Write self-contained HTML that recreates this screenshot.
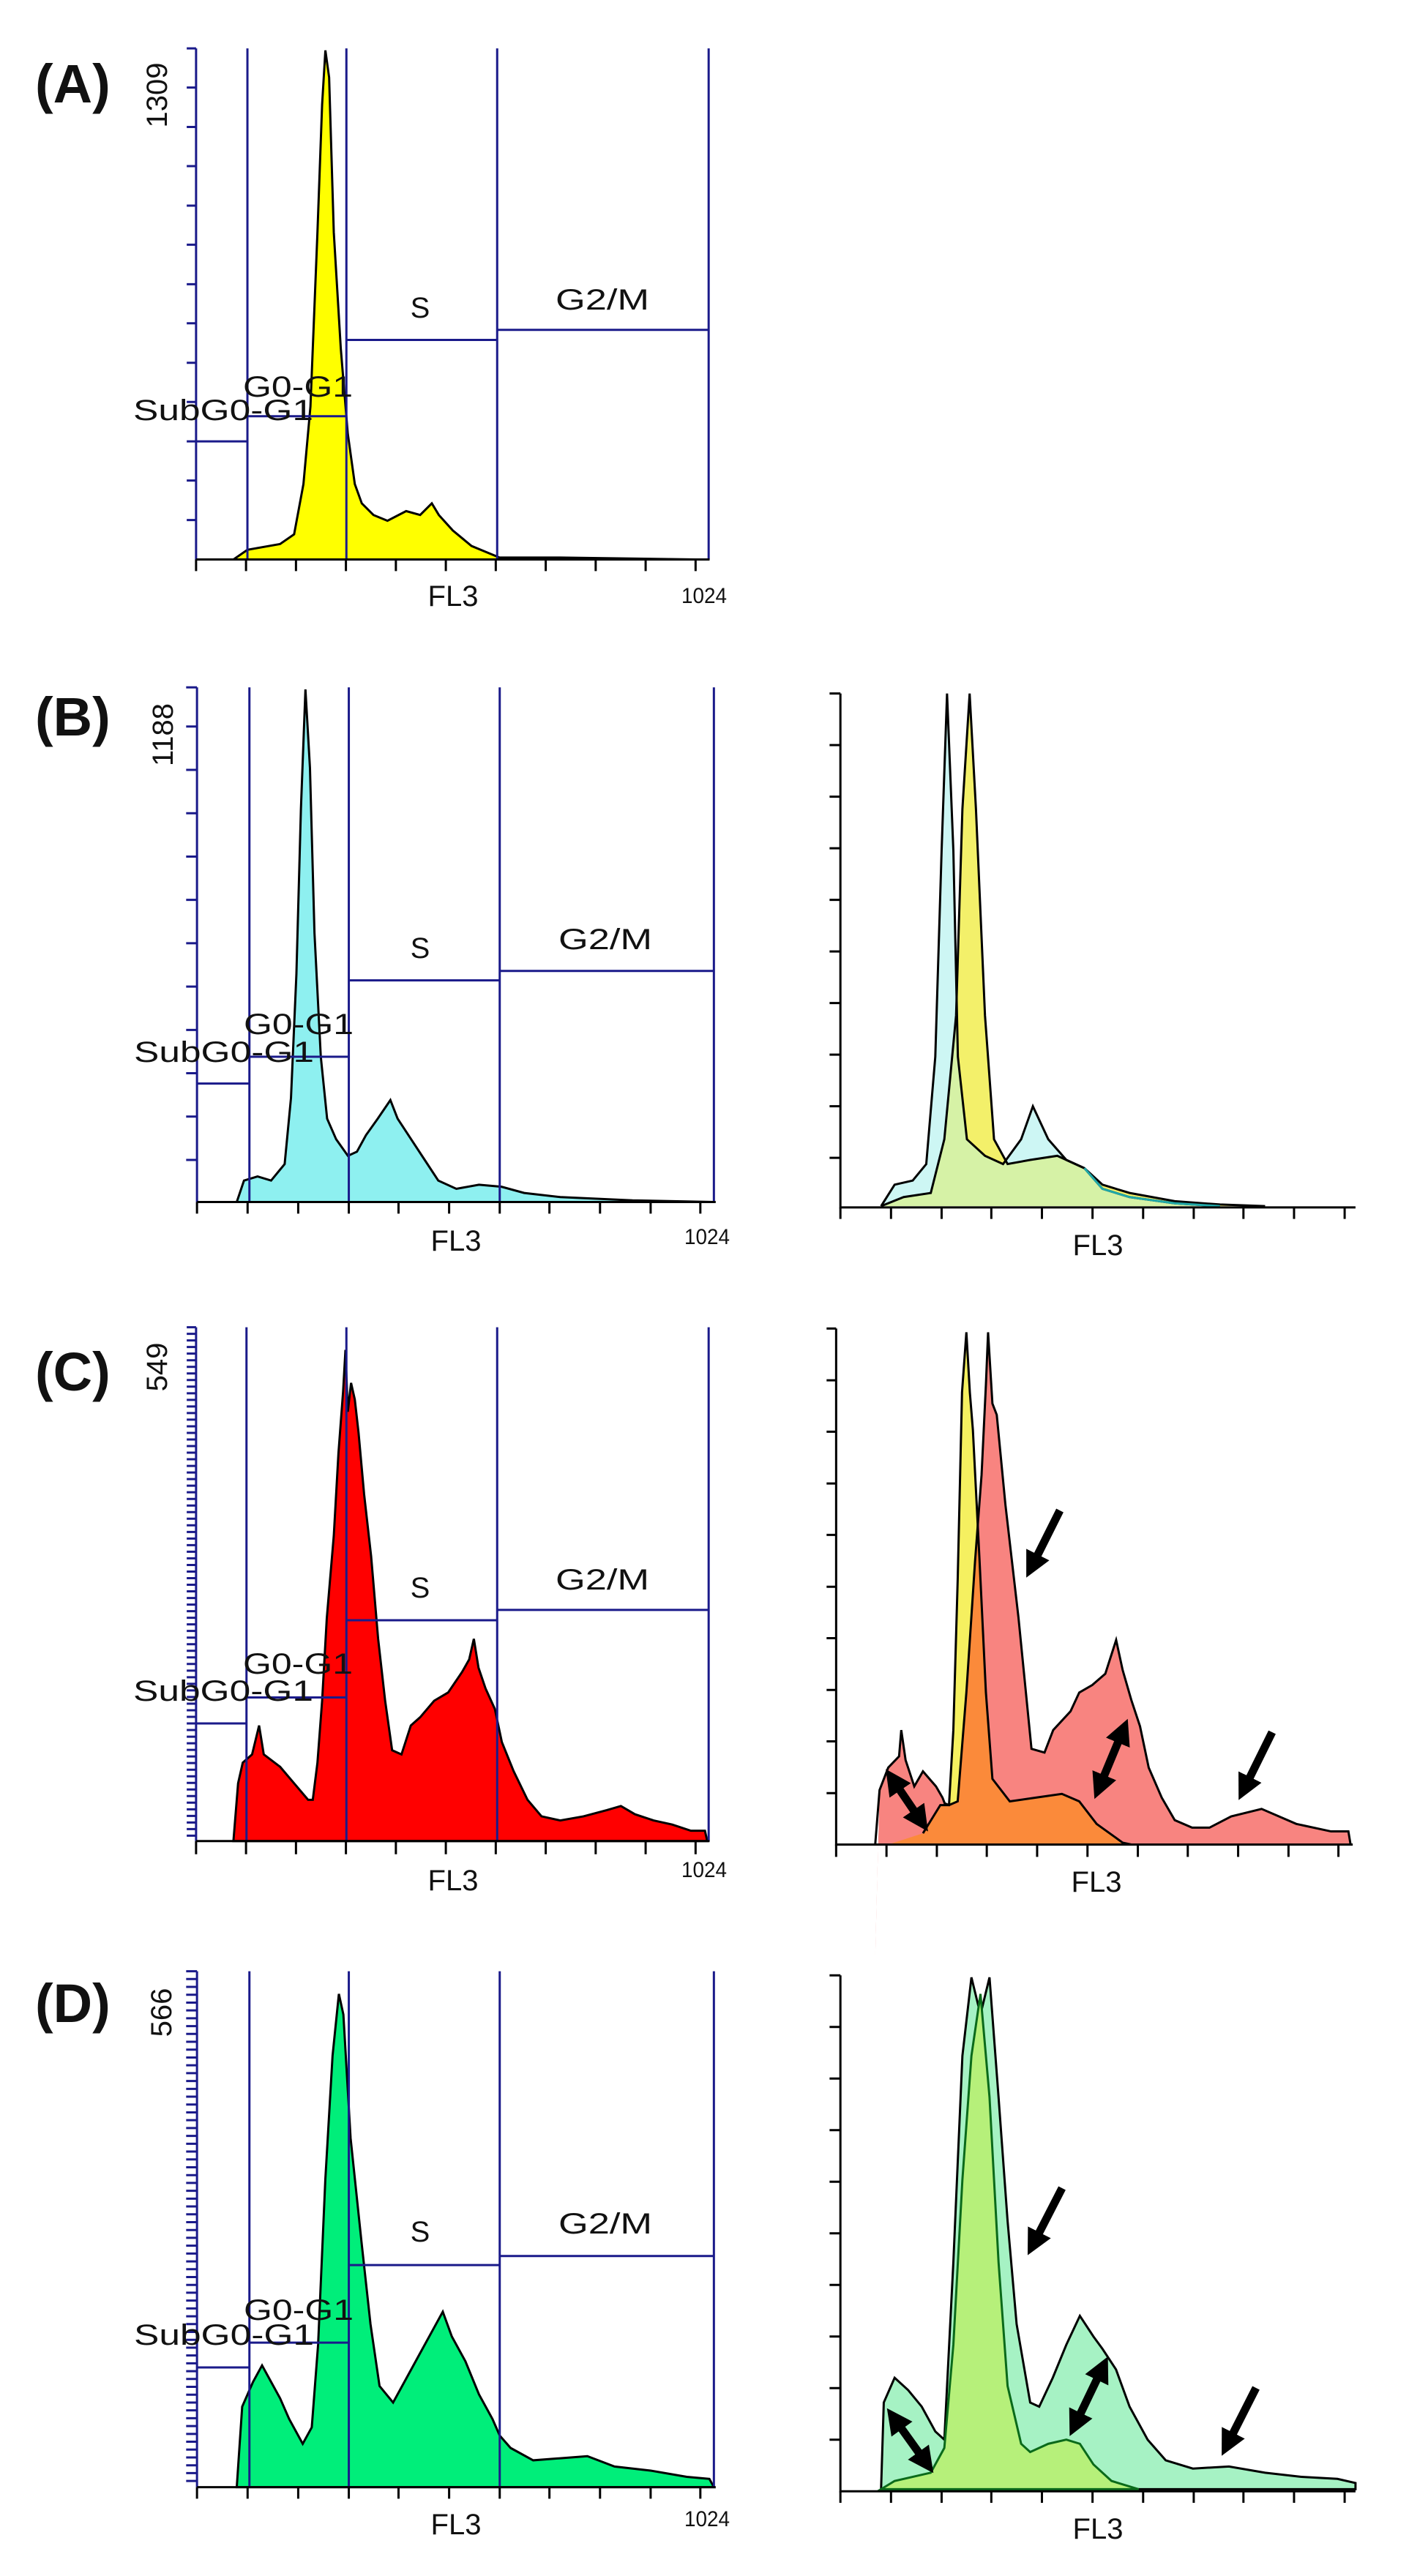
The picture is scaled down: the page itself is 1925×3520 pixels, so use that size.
<!DOCTYPE html>
<html><head><meta charset="utf-8"><style>
html,body{margin:0;padding:0;background:#fff;}
svg{display:block}
text{font-family:"Liberation Sans",sans-serif;fill:#111}
.lbl{font-size:40px}
.big{font-size:74px;font-weight:bold}
.small{font-size:30px}
</style></head><body>
<svg width="1925" height="3520" viewBox="0 0 1925 3520" xmlns="http://www.w3.org/2000/svg">
<defs>
<marker id="ah" viewBox="0 0 10 10" refX="5" refY="5" markerWidth="3.2" markerHeight="3.2" orient="auto-start-reverse" markerUnits="strokeWidth">
<path d="M0,0 L10,5 L0,10 z" fill="#000"/></marker>
</defs>

<!-- ================= PANEL A ================= -->
<g transform="translate(0,0) scale(0.6378,0.5291)">
<path d="M500,1445 L530,1420 L600,1405 L630,1380 L650,1250 L665,1050 L680,600 L690,270 L697,130 L705,200 L715,600 L730,900 L745,1120 L760,1250 L775,1300 L800,1330 L830,1345 L870,1320 L900,1330 L925,1300 L940,1330 L970,1370 L1010,1410 L1050,1430 L1070,1440 L1200,1440 L1490,1445 Z" fill="#ffff00" stroke="#000" stroke-width="3" vector-effect="non-scaling-stroke"/>
<g stroke="#1a1a8a" stroke-width="3" vector-effect="non-scaling-stroke" fill="none">
<path d="M420,125 V1445 M530,125 V1445 M742,125 V1445 M1065,125 V1445 M1518,125 V1445" vector-effect="non-scaling-stroke"/>
<path d="M420,1140 H530 M530,1075 H742 M742,878 H1065 M1065,852 H1518" vector-effect="non-scaling-stroke"/>
<path d="M400,125 H420 M400,226 H420 M400,328 H420 M400,429 H420 M400,531 H420 M400,632 H420 M400,734 H420 M400,835 H420 M400,937 H420 M400,1038 H420 M400,1140 H420 M400,1241 H420 M400,1343 H420" vector-effect="non-scaling-stroke"/>
</g>
<g stroke="#000" stroke-width="3" fill="none">
<path d="M420,1445 H1520" vector-effect="non-scaling-stroke"/>
<path d="M420,1445 V1475 M527,1445 V1475 M634,1445 V1475 M741,1445 V1475 M848,1445 V1475 M955,1445 V1475 M1062,1445 V1475 M1169,1445 V1475 M1276,1445 V1475 M1383,1445 V1475 M1490,1445 V1475" vector-effect="non-scaling-stroke"/>
</g>
</g>
<text class="big" x="48" y="140">(A)</text>
<text class="lbl" transform="translate(228,130) rotate(-90)" text-anchor="middle">1309</text>
<text class="lbl" x="574" y="434" text-anchor="middle">S</text>
<text class="lbl" x="759" y="423" textLength="128" lengthAdjust="spacingAndGlyphs">G2/M</text>
<text class="lbl" x="332" y="542" textLength="150" lengthAdjust="spacingAndGlyphs">G0-G1</text>
<text class="lbl" x="182" y="574" textLength="246" lengthAdjust="spacingAndGlyphs">SubG0-G1</text>
<text class="lbl" x="619" y="828" text-anchor="middle">FL3</text>
<text class="small" x="931" y="824" textLength="62" lengthAdjust="spacingAndGlyphs">1024</text>

<!-- ================= PANEL B left ================= -->
<g transform="translate(0,880) scale(1.2346,0.5640)">
<path d="M262,1352 L270,1300 L285,1290 L300,1300 L315,1260 L322,1100 L328,800 L333,400 L338,110 L343,300 L348,700 L355,1000 L362,1150 L372,1200 L385,1240 L395,1230 L405,1190 L418,1150 L432,1105 L440,1150 L455,1200 L470,1250 L485,1300 L505,1320 L530,1310 L555,1315 L580,1330 L620,1340 L700,1348 L790,1352 Z" fill="#8ef0f0" stroke="#000" stroke-width="3" vector-effect="non-scaling-stroke"/>
<g stroke="#1a1a8a" stroke-width="3" fill="none">
<path d="M218,105 V1352 M276,105 V1352 M386,105 V1352 M553,105 V1352 M790,105 V1352" vector-effect="non-scaling-stroke"/>
<path d="M218,1065 H276 M276,1000 H386 M386,815 H553 M553,792 H790" vector-effect="non-scaling-stroke"/>
<path d="M206,200 H218 M206,305 H218 M206,410 H218 M206,515 H218 M206,620 H218 M206,725 H218 M206,830 H218 M206,935 H218 M206,1040 H218 M206,1145 H218 M206,1250 H218 M206,105 H218" vector-effect="non-scaling-stroke"/>
</g>
<g stroke="#000" stroke-width="3" fill="none">
<path d="M218,1352 H792" vector-effect="non-scaling-stroke"/>
<path d="M218,1352 V1380 M274,1352 V1380 M330,1352 V1380 M386,1352 V1380 M441,1352 V1380 M497,1352 V1380 M553,1352 V1380 M608,1352 V1380 M664,1352 V1380 M720,1352 V1380 M775,1352 V1380" vector-effect="non-scaling-stroke"/>
</g>
</g>
<text class="big" x="48" y="1005">(B)</text>
<text class="lbl" transform="translate(236,1004) rotate(-90)" text-anchor="middle">1188</text>
<text class="lbl" x="574" y="1309" text-anchor="middle">S</text>
<text class="lbl" x="763" y="1297" textLength="128" lengthAdjust="spacingAndGlyphs">G2/M</text>
<text class="lbl" x="333" y="1413" textLength="150" lengthAdjust="spacingAndGlyphs">G0-G1</text>
<text class="lbl" x="183" y="1451" textLength="246" lengthAdjust="spacingAndGlyphs">SubG0-G1</text>
<text class="lbl" x="623" y="1709" text-anchor="middle">FL3</text>
<text class="small" x="935" y="1700" textLength="62" lengthAdjust="spacingAndGlyphs">1024</text>

<!-- ================= PANEL B right ================= -->
<g transform="translate(0,880) scale(1.2346,0.5640)">
<defs>
<clipPath id="cB"><path d="M975,1362 L990,1310 L1010,1300 L1025,1260 L1035,1000 L1042,500 L1048,120 L1055,500 L1060,1000 L1070,1200 L1090,1240 L1110,1260 L1130,1200 L1143,1120 L1160,1200 L1180,1250 L1200,1270 L1220,1320 L1250,1340 L1300,1355 L1350,1362 Z"/></clipPath>
</defs>
<path d="M975,1362 L1000,1340 L1030,1330 L1045,1200 L1058,900 L1065,400 L1073,120 L1080,400 L1090,900 L1100,1200 L1115,1260 L1140,1250 L1170,1240 L1200,1270 L1220,1310 L1250,1330 L1300,1350 L1350,1358 L1400,1362 Z" fill="#f3f06a"/>
<path d="M975,1362 L990,1310 L1010,1300 L1025,1260 L1035,1000 L1042,500 L1048,120 L1055,500 L1060,1000 L1070,1200 L1090,1240 L1110,1260 L1130,1200 L1143,1120 L1160,1200 L1180,1250 L1200,1270 L1220,1320 L1250,1340 L1300,1355 L1350,1362 Z" fill="#cdf6f4"/>
<path d="M975,1362 L1000,1340 L1030,1330 L1045,1200 L1058,900 L1065,400 L1073,120 L1080,400 L1090,900 L1100,1200 L1115,1260 L1140,1250 L1170,1240 L1200,1270 L1220,1310 L1250,1330 L1300,1350 L1350,1358 L1400,1362 Z" fill="#d6f2a6" clip-path="url(#cB)"/>
<path d="M975,1362 L1000,1340 L1030,1330 L1045,1200 L1058,900 L1065,400 L1073,120 L1080,400 L1090,900 L1100,1200 L1115,1260 L1140,1250 L1170,1240 L1200,1270 L1220,1310 L1250,1330 L1300,1350 L1350,1358 L1400,1362" fill="none" stroke="#000" stroke-width="3" vector-effect="non-scaling-stroke"/>
<path d="M975,1362 L990,1310 L1010,1300 L1025,1260 L1035,1000 L1042,500 L1048,120 L1055,500 L1060,1000 L1070,1200 L1090,1240 L1110,1260 L1130,1200 L1143,1120 L1160,1200 L1180,1250 L1200,1270 L1220,1320 L1250,1340 L1300,1355 L1350,1362" fill="none" stroke="#000" stroke-width="3" vector-effect="non-scaling-stroke"/>
<path d="M1200,1270 L1220,1320 L1250,1340 L1300,1355 L1350,1362" fill="none" stroke="#20a8a8" stroke-width="3" vector-effect="non-scaling-stroke"/>
<g stroke="#000" stroke-width="3" fill="none">
<path d="M930,120 V1365 H1500" vector-effect="non-scaling-stroke"/>
<path d="M918,120 H930 M918,245 H930 M918,370 H930 M918,495 H930 M918,620 H930 M918,745 H930 M918,870 H930 M918,995 H930 M918,1120 H930 M918,1245 H930" vector-effect="non-scaling-stroke"/>
<path d="M930,1365 V1393 M986,1365 V1393 M1042,1365 V1393 M1097,1365 V1393 M1153,1365 V1393 M1209,1365 V1393 M1265,1365 V1393 M1321,1365 V1393 M1376,1365 V1393 M1432,1365 V1393 M1488,1365 V1393" vector-effect="non-scaling-stroke"/>
</g>
</g>
<text class="lbl" x="1500" y="1715" text-anchor="middle">FL3</text>

<!-- ================= PANEL C left ================= -->
<g transform="translate(0,1760) scale(0.6378,0.5640)">
<path d="M500,1340 L510,1200 L520,1150 L540,1130 L555,1060 L565,1130 L600,1160 L630,1200 L660,1240 L670,1240 L680,1150 L690,1000 L700,800 L715,600 L725,400 L735,250 L740,150 L745,300 L752,230 L760,270 L768,350 L780,500 L795,650 L810,850 L825,1000 L840,1120 L860,1130 L880,1060 L900,1040 L930,1000 L960,980 L990,930 L1005,900 L1015,850 L1025,920 L1040,970 L1060,1020 L1075,1100 L1100,1170 L1130,1240 L1160,1280 L1200,1290 L1250,1280 L1300,1265 L1330,1255 L1360,1275 L1400,1290 L1440,1300 L1480,1315 L1510,1315 L1515,1340 Z" fill="#ff0000" stroke="#000" stroke-width="3" vector-effect="non-scaling-stroke"/>
<g stroke="#1a1a8a" stroke-width="3" fill="none">
<path d="M420,95 V1340 M528,95 V1340 M742,95 V1340 M1065,95 V1340 M1518,95 V1340" vector-effect="non-scaling-stroke"/>
<path d="M420,1055 H528 M528,992 H742 M742,805 H1065 M1065,780 H1518" vector-effect="non-scaling-stroke"/>
<path d="M400,95 H420 M400,111 H420 M400,127 H420 M400,143 H420 M400,159 H420 M400,175 H420 M400,191 H420 M400,207 H420 M400,223 H420 M400,239 H420 M400,255 H420 M400,271 H420 M400,287 H420 M400,303 H420 M400,319 H420 M400,335 H420 M400,351 H420 M400,367 H420 M400,383 H420 M400,399 H420 M400,415 H420 M400,431 H420 M400,447 H420 M400,463 H420 M400,479 H420 M400,495 H420 M400,511 H420 M400,527 H420 M400,543 H420 M400,559 H420 M400,575 H420 M400,591 H420 M400,607 H420 M400,623 H420 M400,639 H420 M400,655 H420 M400,671 H420 M400,687 H420 M400,703 H420 M400,719 H420 M400,735 H420 M400,751 H420 M400,767 H420 M400,783 H420 M400,799 H420 M400,815 H420 M400,831 H420 M400,847 H420 M400,863 H420 M400,879 H420 M400,895 H420 M400,911 H420 M400,927 H420 M400,943 H420 M400,959 H420 M400,975 H420 M400,991 H420 M400,1007 H420 M400,1023 H420 M400,1039 H420 M400,1055 H420 M400,1071 H420 M400,1087 H420 M400,1103 H420 M400,1119 H420 M400,1135 H420 M400,1151 H420 M400,1167 H420 M400,1183 H420 M400,1199 H420 M400,1215 H420 M400,1231 H420 M400,1247 H420 M400,1263 H420 M400,1279 H420 M400,1295 H420 M400,1311 H420 M400,1327 H420" vector-effect="non-scaling-stroke"/>
</g>
<g stroke="#000" stroke-width="3" fill="none">
<path d="M420,1340 H1520" vector-effect="non-scaling-stroke"/>
<path d="M420,1340 V1372 M527,1340 V1372 M634,1340 V1372 M741,1340 V1372 M848,1340 V1372 M955,1340 V1372 M1062,1340 V1372 M1169,1340 V1372 M1276,1340 V1372 M1383,1340 V1372 M1490,1340 V1372" vector-effect="non-scaling-stroke"/>
</g>
</g>
<text class="big" x="48" y="1900">(C)</text>
<text class="lbl" transform="translate(228,1868) rotate(-90)" text-anchor="middle">549</text>
<text class="lbl" x="574" y="2183" text-anchor="middle">S</text>
<text class="lbl" x="759" y="2172" textLength="128" lengthAdjust="spacingAndGlyphs">G2/M</text>
<text class="lbl" x="332" y="2287" textLength="150" lengthAdjust="spacingAndGlyphs">G0-G1</text>
<text class="lbl" x="182" y="2324" textLength="246" lengthAdjust="spacingAndGlyphs">SubG0-G1</text>
<text class="lbl" x="619" y="2583" text-anchor="middle">FL3</text>
<text class="small" x="931" y="2565" textLength="62" lengthAdjust="spacingAndGlyphs">1024</text>

<!-- ================= PANEL C right ================= -->
<g transform="translate(1000,1800) scale(0.5931,0.5128)">
<defs>
<clipPath id="cC"><path d="M330,1705 L340,1260 L360,1200 L385,1170 L390,1100 L400,1180 L420,1250 L440,1210 L470,1250 L485,1280 L490,1295 L500,1300 L520,1290 L540,1000 L560,650 L575,420 L585,180 L590,40 L600,230 L610,260 L630,500 L660,800 L690,1150 L720,1160 L740,1100 L780,1050 L800,1000 L830,980 L860,950 L885,860 L900,940 L920,1020 L940,1090 L960,1200 L990,1280 L1020,1340 L1060,1360 L1100,1360 L1150,1330 L1220,1310 L1300,1350 L1380,1370 L1420,1370 L1425,1405 Z"/></clipPath>
</defs>
<path d="M360,1405 L440,1375 L480,1300 L500,1300 L510,1100 L520,700 L530,200 L540,40 L548,200 L555,300 L570,640 L585,1000 L600,1230 L640,1290 L700,1280 L760,1270 L800,1290 L840,1350 L900,1400 L920,1405 Z" fill="#f5f060"/>
<path d="M330,1705 L340,1260 L360,1200 L385,1170 L390,1100 L400,1180 L420,1250 L440,1210 L470,1250 L485,1280 L490,1295 L500,1300 L520,1290 L540,1000 L560,650 L575,420 L585,180 L590,40 L600,230 L610,260 L630,500 L660,800 L690,1150 L720,1160 L740,1100 L780,1050 L800,1000 L830,980 L860,950 L885,860 L900,940 L920,1020 L940,1090 L960,1200 L990,1280 L1020,1340 L1060,1360 L1100,1360 L1150,1330 L1220,1310 L1300,1350 L1380,1370 L1420,1370 L1425,1405 L330,1405 Z" fill="#f88480" clip-path="url(#cC)"/>
<path d="M360,1405 L440,1375 L480,1300 L500,1300 L510,1100 L520,700 L530,200 L540,40 L548,200 L555,300 L570,640 L585,1000 L600,1230 L640,1290 L700,1280 L760,1270 L800,1290 L840,1350 L900,1400 L920,1405 Z" fill="#fb8a3a" clip-path="url(#cC)"/>
<path d="M440,1375 L480,1300 L500,1300 L510,1100 L520,700 L530,200 L540,40 L548,200 L555,300 L570,640 L585,1000 L600,1230 L640,1290 L700,1280 L760,1270 L800,1290 L840,1350 L900,1400 L920,1405" fill="none" stroke="#000" stroke-width="3" vector-effect="non-scaling-stroke"/>
<path d="M330,1405 L340,1260 L360,1200 L385,1170 L390,1100 L400,1180 L420,1250 L440,1210 L470,1250 L485,1280 L490,1295 L500,1300 L520,1290 L540,1000 L560,650 L575,420 L585,180 L590,40 L600,230 L610,260 L630,500 L660,800 L690,1150 L720,1160 L740,1100 L780,1050 L800,1000 L830,980 L860,950 L885,860 L900,940 L920,1020 L940,1090 L960,1200 L990,1280 L1020,1340 L1060,1360 L1100,1360 L1150,1330 L1220,1310 L1300,1350 L1380,1370 L1420,1370 L1425,1405" fill="none" stroke="#000" stroke-width="3" vector-effect="non-scaling-stroke"/>
<g stroke="#000" stroke-width="3" fill="none">
<path d="M240,30 V1405 H1430" vector-effect="non-scaling-stroke"/>
<path d="M218,30 H240 M218,168 H240 M218,305 H240 M218,443 H240 M218,580 H240 M218,718 H240 M218,855 H240 M218,993 H240 M218,1130 H240 M218,1268 H240" vector-effect="non-scaling-stroke"/>
<path d="M240,1405 V1438 M356,1405 V1438 M472,1405 V1438 M587,1405 V1438 M703,1405 V1438 M819,1405 V1438 M935,1405 V1438 M1050,1405 V1438 M1166,1405 V1438 M1282,1405 V1438 M1397,1405 V1438" vector-effect="non-scaling-stroke"/>
</g>
</g>
<text class="lbl" x="1498" y="2585" text-anchor="middle">FL3</text>
<g stroke="#000" stroke-width="11" fill="none">
<line x1="1448" y1="2064" x2="1410" y2="2140" marker-end="url(#ah)"/>
<line x1="1738" y1="2367" x2="1700" y2="2444" marker-end="url(#ah)"/>
<line x1="1220" y1="2432" x2="1258" y2="2488" marker-start="url(#ah)" marker-end="url(#ah)"/>
<line x1="1534" y1="2365" x2="1502" y2="2442" marker-start="url(#ah)" marker-end="url(#ah)"/>
</g>

<!-- ================= PANEL D left ================= -->
<g transform="translate(0,2640) scale(1.2346,0.5640)">
<path d="M262,1345 L268,1150 L280,1090 L290,1050 L300,1090 L310,1130 L320,1180 L335,1240 L345,1200 L352,1000 L360,600 L368,300 L375,150 L380,200 L388,500 L400,750 L410,950 L420,1100 L435,1140 L450,1080 L465,1020 L480,960 L490,920 L500,980 L515,1040 L530,1120 L545,1180 L553,1220 L565,1250 L590,1280 L620,1275 L650,1270 L680,1295 L720,1305 L760,1320 L785,1325 L790,1345 Z" fill="#00ee7a" stroke="#000" stroke-width="3" vector-effect="non-scaling-stroke"/>
<g stroke="#1a1a8a" stroke-width="3" fill="none">
<path d="M218,95 V1345 M276,95 V1345 M386,95 V1345 M553,95 V1345 M790,95 V1345" vector-effect="non-scaling-stroke"/>
<path d="M218,1055 H276 M276,995 H386 M386,807 H553 M553,785 H790" vector-effect="non-scaling-stroke"/>
</g>
<g stroke="#1a1a8a" stroke-width="3" fill="none">
<path d="M206,95 H218 M206,114 H218 M206,133 H218 M206,152 H218 M206,171 H218 M206,190 H218 M206,209 H218 M206,228 H218 M206,247 H218 M206,266 H218 M206,285 H218 M206,304 H218 M206,323 H218 M206,342 H218 M206,361 H218 M206,380 H218 M206,399 H218 M206,418 H218 M206,437 H218 M206,456 H218 M206,475 H218 M206,494 H218 M206,513 H218 M206,532 H218 M206,551 H218 M206,570 H218 M206,589 H218 M206,608 H218 M206,627 H218 M206,646 H218 M206,665 H218 M206,684 H218 M206,703 H218 M206,722 H218 M206,741 H218 M206,760 H218 M206,779 H218 M206,798 H218 M206,817 H218 M206,836 H218 M206,855 H218 M206,874 H218 M206,893 H218 M206,912 H218 M206,931 H218 M206,950 H218 M206,969 H218 M206,988 H218 M206,1007 H218 M206,1026 H218 M206,1045 H218 M206,1064 H218 M206,1083 H218 M206,1102 H218 M206,1121 H218 M206,1140 H218 M206,1159 H218 M206,1178 H218 M206,1197 H218 M206,1216 H218 M206,1235 H218 M206,1254 H218 M206,1273 H218 M206,1292 H218 M206,1311 H218 M206,1330 H218" vector-effect="non-scaling-stroke"/>
</g>
<g stroke="#000" stroke-width="3" fill="none">
<path d="M218,1345 H792" vector-effect="non-scaling-stroke"/>
<path d="M218,1345 V1373 M274,1345 V1373 M330,1345 V1373 M386,1345 V1373 M441,1345 V1373 M497,1345 V1373 M553,1345 V1373 M608,1345 V1373 M664,1345 V1373 M720,1345 V1373 M775,1345 V1373" vector-effect="non-scaling-stroke"/>
</g>
</g>
<text class="big" x="48" y="2763">(D)</text>
<text class="lbl" transform="translate(234,2750) rotate(-90)" text-anchor="middle">566</text>
<text class="lbl" x="574" y="3063" text-anchor="middle">S</text>
<text class="lbl" x="763" y="3052" textLength="128" lengthAdjust="spacingAndGlyphs">G2/M</text>
<text class="lbl" x="333" y="3170" textLength="150" lengthAdjust="spacingAndGlyphs">G0-G1</text>
<text class="lbl" x="183" y="3204" textLength="246" lengthAdjust="spacingAndGlyphs">SubG0-G1</text>
<text class="lbl" x="623" y="3463" text-anchor="middle">FL3</text>
<text class="small" x="935" y="3452" textLength="62" lengthAdjust="spacingAndGlyphs">1024</text>

<!-- ================= PANEL D right ================= -->
<g transform="translate(0,2640) scale(1.2346,0.5640)">
<path d="M975,1350 L978,1140 L990,1080 L1005,1110 L1020,1150 L1035,1210 L1045,1230 L1055,800 L1065,300 L1075,110 L1085,200 L1095,110 L1105,400 L1115,700 L1125,950 L1140,1140 L1150,1150 L1165,1080 L1180,1000 L1195,930 L1210,980 L1220,1010 L1235,1060 L1250,1150 L1270,1230 L1290,1280 L1320,1300 L1360,1295 L1400,1310 L1440,1320 L1480,1325 L1500,1335 L1500,1350 Z" fill="#a6f2c4" stroke="#000" stroke-width="3" vector-effect="non-scaling-stroke"/>
<path d="M975,1350 L990,1330 L1030,1310 L1045,1250 L1055,1000 L1065,600 L1075,300 L1085,150 L1095,400 L1105,800 L1115,1100 L1130,1240 L1140,1260 L1160,1240 L1180,1230 L1195,1240 L1210,1290 L1230,1330 L1260,1350 Z" fill="#b6f07a" stroke="#0a6a1a" stroke-width="3" vector-effect="non-scaling-stroke"/>
<g stroke="#000" stroke-width="3" fill="none">
<path d="M930,105 V1355 H1500" vector-effect="non-scaling-stroke"/>
<path d="M918,105 H930 M918,230 H930 M918,355 H930 M918,480 H930 M918,605 H930 M918,730 H930 M918,855 H930 M918,980 H930 M918,1105 H930 M918,1230 H930" vector-effect="non-scaling-stroke"/>
<path d="M930,1355 V1383 M986,1355 V1383 M1042,1355 V1383 M1097,1355 V1383 M1153,1355 V1383 M1209,1355 V1383 M1265,1355 V1383 M1321,1355 V1383 M1376,1355 V1383 M1432,1355 V1383 M1488,1355 V1383" vector-effect="non-scaling-stroke"/>
</g>
</g>
<text class="lbl" x="1500" y="3469" text-anchor="middle">FL3</text>
<g stroke="#000" stroke-width="11" fill="none">
<line x1="1451" y1="2990" x2="1412" y2="3066" marker-end="url(#ah)"/>
<line x1="1716" y1="3263" x2="1677" y2="3340" marker-end="url(#ah)"/>
<line x1="1222" y1="3305" x2="1265" y2="3365" marker-start="url(#ah)" marker-end="url(#ah)"/>
<line x1="1506" y1="3236" x2="1469" y2="3313" marker-start="url(#ah)" marker-end="url(#ah)"/>
</g>
</svg>
</body></html>
